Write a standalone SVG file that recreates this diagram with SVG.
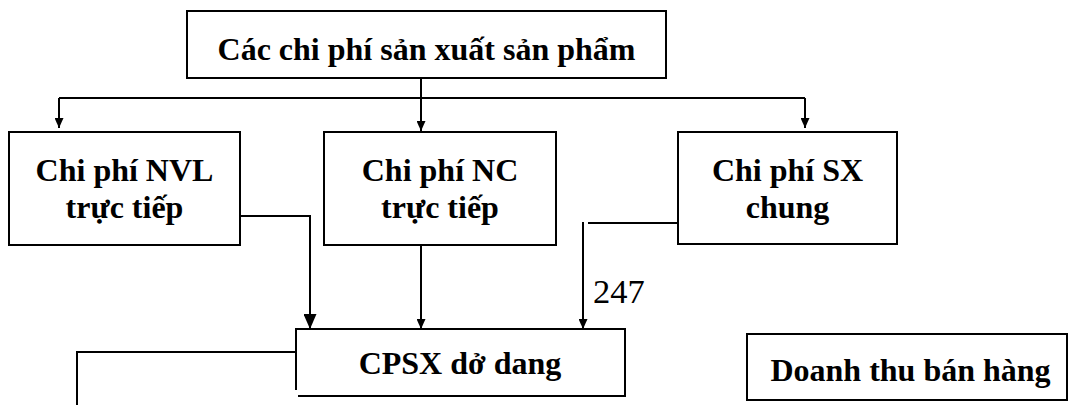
<svg xmlns="http://www.w3.org/2000/svg" width="1069" height="405" viewBox="0 0 1069 405">
<style>
.box{fill:#fff;stroke:#000;stroke-width:2}
.t{font-family:"Liberation Serif","Times New Roman",serif;font-weight:bold;font-size:32px;fill:#000;text-anchor:middle}
.n{font-family:"Liberation Serif","Times New Roman",serif;font-size:34.5px;fill:#000}
.c{fill:none;stroke:#000;stroke-width:2}
</style>
<defs>
<marker id="a" markerUnits="userSpaceOnUse" viewBox="0 0 10 9" markerWidth="10" markerHeight="9" refX="10" refY="4.5" orient="auto"><path d="M0,0 L10,4.5 L0,9 z" fill="#000"/></marker>
<marker id="b" markerUnits="userSpaceOnUse" viewBox="0 0 15 13" markerWidth="15" markerHeight="13" refX="15" refY="6.5" orient="auto"><path d="M0,0 L15,6.5 L0,13 z" fill="#000"/></marker>
</defs>
<rect width="1069" height="405" fill="#fff"/>
<g id="connectors">
<path class="c" d="M421,77 V98"/>
<path class="c" d="M59,98 H805"/>
<path class="c" d="M59,98 V128" marker-end="url(#a)"/>
<path class="c" d="M421,98 V131" marker-end="url(#a)"/>
<path class="c" d="M805,98 V128" marker-end="url(#a)"/>
<path class="c" d="M240,216 H310 V329" marker-end="url(#b)"/>
<path class="c" d="M421,245 V329" marker-end="url(#a)"/>
<path class="c" d="M678,223 H588"/>
<path class="c" d="M583,222 V329" marker-end="url(#a)"/>
<path class="c" d="M296,352 H77 V405"/>
<text class="n" x="593" y="303">247</text>
</g>
<g id="node-top">
<rect class="box" x="187" y="11" width="479" height="67"/>
<text class="t" x="426.5" y="60">Các chi phí sản xuất sản phẩm</text>
</g>
<g id="node-nvl">
<rect class="box" x="9" y="132" width="231" height="113"/>
<text class="t" x="124.5" y="181">Chi phí NVL</text>
<text class="t" x="124.5" y="218">trực tiếp</text>
</g>
<g id="node-nc">
<rect class="box" x="324" y="132" width="232" height="113"/>
<text class="t" x="440" y="181">Chi phí NC</text>
<text class="t" x="440" y="218">trực tiếp</text>
</g>
<g id="node-sx">
<rect class="box" x="678" y="132" width="219" height="112"/>
<text class="t" x="787.5" y="181">Chi phí SX</text>
<text class="t" x="787.5" y="218">chung</text>
</g>
<g id="node-cpsx">
<path class="box" d="M296,390 V329 H625 V396 H298"/>
<text class="t" x="460" y="374">CPSX dở dang</text>
</g>
<g id="node-dt">
<rect class="box" x="747" y="334" width="320" height="66"/>
<text class="t" x="910.5" y="381">Doanh thu bán hàng</text>
</g>
</svg>
